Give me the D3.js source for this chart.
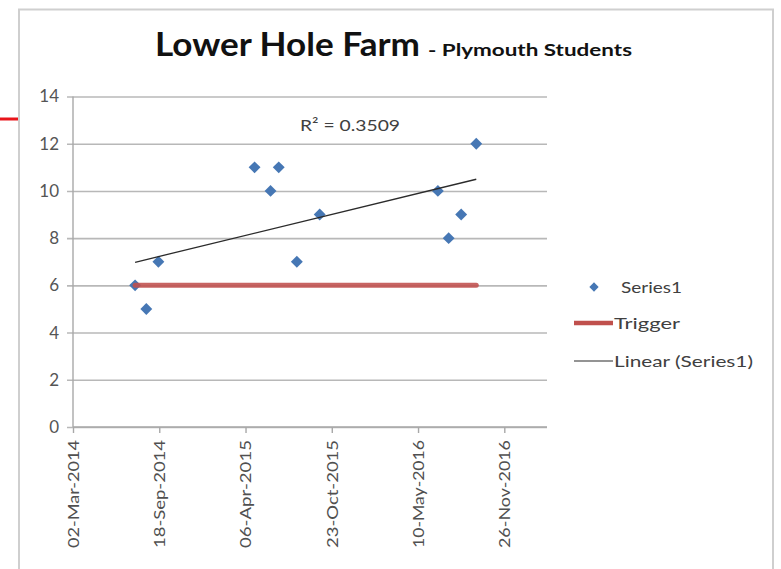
<!DOCTYPE html>
<html>
<head>
<meta charset="utf-8">
<script src="https://cdn.jsdelivr.net/npm/d3@7"></script>
<style>
  html, body { margin: 0; padding: 0; background: #ffffff; }
  svg { display: block; }
  text { font-family: Lato, "Open Sans", sans-serif; }
</style>
</head>
<body>
<svg id="chart" width="781" height="569"></svg>
<script>
// Sample dates and counts (Series1)
const sampleDates = [
  "24-Jul-2014", "19-Aug-2014", "16-Sep-2014", "27-Apr-2015",
  "03-Jun-2015", "22-Jun-2015", "03-Aug-2015", "25-Sep-2015",
  "25-Jun-2016", "20-Jul-2016", "18-Aug-2016", "22-Sep-2016"
];
const sampleValues = [6, 5, 7, 11, 10, 11, 7, 9, 10, 8, 9, 12];

// Trigger level at each sample date
const triggerValues = [6, 6, 6, 6, 6, 6, 6, 6, 6, 6, 6, 6];

// Axis ranges and tick labels
const xDomain = ["02-Mar-2014", "05-Mar-2017"];
const xTickLabels = ["02-Mar-2014", "18-Sep-2014", "06-Apr-2015", "23-Oct-2015", "10-May-2016", "26-Nov-2016"];
const yTickValues = [0, 2, 4, 6, 8, 10, 12, 14];

const titleMain = "Lower Hole Farm";
const titleSub = "- Plymouth Students";
const rSquaredLabel = "R\u00B2 = 0.3509";
const legendLabels = ["Series1", "Trigger", "Linear (Series1)"];

const parse = d3.utcParse("%d-%b-%Y");
const fmt = d3.utcFormat("%d-%b-%Y");

const points = sampleDates.map((d, i) => ({ date: parse(d), value: sampleValues[i] }));
const trigger = sampleDates.map((d, i) => ({ date: parse(d), value: triggerValues[i] }));

const svg = d3.select("#chart");

// Chart frame
svg.append("path")
  .attr("d", "M19,569 V9.5 H773 V569")
  .attr("fill", "none")
  .attr("stroke", "#cfcfcf")
  .attr("stroke-width", 2);

// Red marker at the left edge
svg.append("line")
  .attr("x1", 0).attr("x2", 18)
  .attr("y1", 119).attr("y2", 119)
  .attr("stroke", "#e8141a")
  .attr("stroke-width", 3);

const x = d3.scaleUtc()
  .domain(xDomain.map(parse))
  .range([73, 547]);

const y = d3.scaleLinear()
  .domain([0, 14])
  .range([427, 96.5]);

// Title
svg.append("text")
  .attr("x", 155).attr("y", 56)
  .attr("font-size", 33).attr("font-weight", 700)
  .attr("fill", "#111")
  .attr("textLength", 265).attr("lengthAdjust", "spacingAndGlyphs")
  .text(titleMain);
svg.append("text")
  .attr("x", 428).attr("y", 56)
  .attr("font-size", 17).attr("font-weight", 700)
  .attr("fill", "#111")
  .attr("textLength", 204).attr("lengthAdjust", "spacingAndGlyphs")
  .text(titleSub);

// Gridlines and y axis
const yAxis = d3.axisLeft(y)
  .tickValues(yTickValues)
  .tickSize(-(x.range()[1] - x.range()[0]))
  .tickPadding(14)
  .tickFormat(d3.format("d"));

const gy = svg.append("g")
  .attr("transform", `translate(${x.range()[0]},0)`)
  .call(yAxis);
gy.select(".domain").remove();
gy.selectAll(".tick line")
  .attr("x1", -6)
  .attr("stroke", "#b8b8b8")
  .attr("stroke-width", 1.6);
gy.selectAll(".tick text")
  .attr("font-size", 17)
  .attr("fill", "#555")
  .attr("font-family", "Lato, 'Open Sans', sans-serif");

// y axis line
svg.append("line")
  .attr("x1", x.range()[0]).attr("x2", x.range()[0])
  .attr("y1", y(14)).attr("y2", y(0))
  .attr("stroke", "#a8a8a8")
  .attr("stroke-width", 1.4);

// x axis
const xAxis = d3.axisBottom(x)
  .tickValues(xTickLabels.map(parse))
  .tickSize(6)
  .tickFormat(fmt);

const gx = svg.append("g")
  .attr("transform", `translate(0,${y(0)})`)
  .call(xAxis);
gx.select(".domain")
  .attr("d", `M${x.range()[0]},0H${x.range()[1]}`)
  .attr("stroke", "#a8a8a8")
  .attr("stroke-width", 1.6);
gx.selectAll(".tick line")
  .attr("stroke", "#a8a8a8")
  .attr("stroke-width", 1.4);
gx.selectAll(".tick text")
  .attr("font-size", 15)
  .attr("fill", "#505050")
  .attr("font-family", "Lato, 'Open Sans', sans-serif")
  .attr("text-anchor", "end")
  .attr("dy", "0.35em")
  .attr("transform", "translate(0,13) rotate(-90)")
  .attr("y", 0)
  .attr("x", 0)
  .attr("textLength", 108)
  .attr("lengthAdjust", "spacingAndGlyphs");

// Linear trendline via least squares on the sample dates
const xs = points.map(p => p.date.getTime());
const ys = points.map(p => p.value);
const mx = d3.mean(xs), my = d3.mean(ys);
const sxy = d3.sum(xs, (v, i) => (v - mx) * (ys[i] - my));
const sxx = d3.sum(xs, v => (v - mx) * (v - mx));
const slope = sxy / sxx;
const intercept = my - slope * mx;
const [xMin, xMax] = d3.extent(xs);
const trend = [xMin, xMax].map(t => ({ date: new Date(t), value: intercept + slope * t }));

const line = d3.line().x(d => x(d.date)).y(d => y(d.value));

// Diamonds
const diamond = d3.symbol().type(d3.symbolDiamond2).size(90);
svg.append("g")
  .selectAll("path")
  .data(points)
  .join("path")
  .attr("d", diamond)
  .attr("transform", d => `translate(${x(d.date)},${y(d.value)})`)
  .attr("fill", "#4677b4");

// Trigger line
svg.append("path")
  .datum(trigger)
  .attr("d", line)
  .attr("fill", "none")
  .attr("stroke", "#c0504d")
  .attr("stroke-opacity", 0.88)
  .attr("stroke-width", 5)
  .attr("stroke-linecap", "round");

// Trendline
svg.append("path")
  .datum(trend)
  .attr("d", line)
  .attr("fill", "none")
  .attr("stroke", "#2b2b2b")
  .attr("stroke-width", 1.3);

// R-squared label
svg.append("text")
  .attr("x", 300).attr("y", 131)
  .attr("font-size", 16)
  .attr("fill", "#404040")
  .attr("textLength", 100).attr("lengthAdjust", "spacingAndGlyphs")
  .text(rSquaredLabel);

// Legend
const legend = svg.append("g");
legend.append("path")
  .attr("d", d3.symbol().type(d3.symbolDiamond2).size(55))
  .attr("transform", "translate(594,287)")
  .attr("fill", "#4677b4");
legend.append("line")
  .attr("x1", 574).attr("x2", 613).attr("y1", 323).attr("y2", 323)
  .attr("stroke", "#c0504d").attr("stroke-width", 4.5);
legend.append("line")
  .attr("x1", 574).attr("x2", 613).attr("y1", 361).attr("y2", 361)
  .attr("stroke", "#2b2b2b").attr("stroke-width", 1.2);

const legendY = [287, 323, 361];
const legendX = [621, 614, 614];
const legendW = [61, 66, 139];
legend.selectAll("text")
  .data(legendLabels)
  .join("text")
  .attr("x", (d, i) => legendX[i])
  .attr("y", (d, i) => legendY[i])
  .attr("dy", "0.35em")
  .attr("font-size", 16)
  .attr("fill", "#404040")
  .attr("textLength", (d, i) => legendW[i])
  .attr("lengthAdjust", "spacingAndGlyphs")
  .text(d => d);
</script>
</body>
</html>
